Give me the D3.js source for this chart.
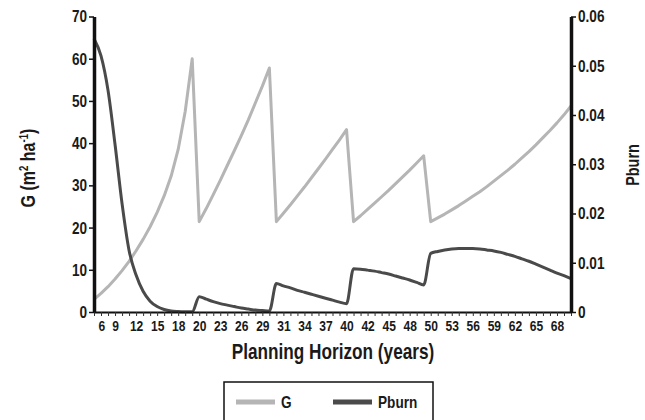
<!DOCTYPE html>
<html><head><meta charset="utf-8">
<script src="https://cdn.jsdelivr.net/npm/d3@7"></script>
<style>
html,body{margin:0;padding:0;background:#fff;}
svg text{font-family:"Liberation Sans Narrow","Arial Narrow","Liberation Sans",Arial,sans-serif;font-weight:bold;fill:#1a1a1a;}
</style></head>
<body><svg id="c" width="645" height="420"></svg>
<script>
// Planning horizon categories (years; harvest years appear twice: before / after)
const years = [6,7,8,9,10,11,12,13,14,15,16,17,18,19,20,20,
  21,22,23,24,25,26,27,28,29,30,30,
  31,32,33,34,35,36,37,38,39,40,40,
  41,42,43,44,45,46,47,48,49,50,50,
  51,52,53,54,55,56,57,58,59,60,61,62,63,64,65,66,67,68,69,70];
// G (m2 ha-1), left axis
const gValues = [3,4.4,6,7.8,9.8,12,14.5,17.2,20.2,23.6,27.5,32.2,38.5,47.5,60,
  21.4,24.5,27.8,31.2,34.7,38.2,41.8,45.5,49.5,53.5,57.8,
  21.4,23.4,25.4,27.5,29.6,31.8,34,36.2,38.5,40.8,43.2,
  21.4,22.8,24.3,25.8,27.3,28.8,30.4,32,33.6,35.3,37,
  21.4,22.3,23.2,24.2,25.2,26.3,27.4,28.5,29.7,31,32.3,33.6,35,36.5,38,39.6,41.3,43,44.8,46.7,48.8];
// Pburn, right axis
const pburnValues = [0.0555,0.052,0.045,0.034,0.022,0.0125,0.0075,0.0042,0.0022,0.0011,0.0005,0.0002,0.0001,0.00005,0.00003,
  0.0031,0.0026,0.0021,0.0017,0.0014,0.0011,0.0008,0.0006,0.0004,0.0003,0.0002,
  0.0058,0.0053,0.0049,0.0044,0.0040,0.0036,0.0032,0.0028,0.0024,0.0020,0.0017,
  0.0088,0.0087,0.0085,0.0083,0.0080,0.0077,0.0073,0.0069,0.0065,0.0060,0.0055,
  0.0119,0.0123,0.0126,0.0128,0.0129,0.0129,0.0129,0.0128,0.0126,0.0124,0.0121,0.0117,0.0113,0.0108,0.0103,0.0097,0.0091,0.0085,0.0079,0.0074,0.0068];
const gTicks = [0,10,20,30,40,50,60,70];
const pTicks = [0,0.01,0.02,0.03,0.04,0.05,0.06];
const seriesNames = ["G","Pburn"];
const colors = {G:"#b5b5b5", Pburn:"#4a4a4a"};

const svg = d3.select("#c");
const L = 94, R = 571, T = 16.5, B = 312;
const idx = d3.range(years.length);
const x = d3.scalePoint().domain(idx).range([L, R]);
const yL = d3.scaleLinear().domain([0,70]).range([B, T]);
const yR = d3.scaleLinear().domain([0,0.06]).range([B, T]);

// lines
const lineG = d3.line().x((d,i)=>x(i)).y(d=>yL(d));
const lineP = d3.line().x((d,i)=>x(i)).y(d=>yR(d)).curve(d3.curveMonotoneX);
svg.append("path").attr("d", lineG(gValues)).attr("fill","none")
  .attr("stroke",colors.G).attr("stroke-width",3).attr("stroke-linejoin","round");
svg.append("path").attr("d", lineP(pburnValues)).attr("fill","none")
  .attr("stroke",colors.Pburn).attr("stroke-width",3).attr("stroke-linejoin","round");

// x axis
const xAxis = d3.axisBottom(x).tickValues(idx).tickSize(4).tickSizeOuter(0)
  .tickFormat(i => i % 3 === 0 ? String(years[i]) : "");
const gx = svg.append("g").attr("transform",`translate(0,${B})`).call(xAxis);
gx.select(".domain").attr("stroke","#111").attr("stroke-width",2);
gx.selectAll(".tick line").attr("stroke","#333").attr("stroke-width",1);
gx.selectAll(".tick text").attr("font-size",15).attr("dy","0.9em").attr("y",5);
gx.selectAll(".tick text").filter(i=>i===0).attr("text-anchor","start").attr("dx",4);

// left axis
const gy = svg.append("g").attr("transform",`translate(${L},0)`)
  .call(d3.axisLeft(yL).tickValues(gTicks).tickSize(5).tickSizeOuter(0).tickFormat(d3.format("d")));
gy.select(".domain").attr("stroke","#111").attr("stroke-width",3.5);
gy.selectAll(".tick line").attr("stroke","#111").attr("stroke-width",1.5);
gy.selectAll(".tick text").attr("font-size",17).attr("x",-7);

// right axis
const gr = svg.append("g").attr("transform",`translate(${R},0)`)
  .call(d3.axisRight(yR).tickValues(pTicks).tickSize(5).tickSizeOuter(0)
    .tickFormat(d => d === 0 ? "0" : d3.format(".2f")(d)));
gr.select(".domain").attr("stroke","#111").attr("stroke-width",3.5);
gr.selectAll(".tick line").attr("stroke","#111").attr("stroke-width",1.5);
gr.selectAll(".tick text").attr("font-size",17).attr("x",7);

// titles
const yt = svg.append("text").attr("transform","translate(35,168) rotate(-90)")
  .attr("text-anchor","middle").attr("font-size",20);
yt.append("tspan").text("G (m");
yt.append("tspan").attr("dy",-7).attr("font-size",12).text("2");
yt.append("tspan").attr("dy",7).text(" ha");
yt.append("tspan").attr("dy",-7).attr("font-size",12).text("-1");
yt.append("tspan").attr("dy",7).text(")");

svg.append("text").attr("transform","translate(639,165) rotate(-90)")
  .attr("text-anchor","middle").attr("font-size",18).text("Pburn");

svg.append("text").attr("x",333).attr("y",359).attr("text-anchor","middle")
  .attr("font-size",21.5).text("Planning Horizon (years)");

// legend
const lg = svg.append("g");
lg.append("rect").attr("x",224).attr("y",382).attr("width",209).attr("height",60)
  .attr("fill","#fff").attr("stroke","#111").attr("stroke-width",1.5);
const items = [{name:seriesNames[0], x0:236}, {name:seriesNames[1], x0:333}];
items.forEach(it => {
  lg.append("line").attr("x1",it.x0).attr("x2",it.x0+39).attr("y1",402).attr("y2",402)
    .attr("stroke",colors[it.name]).attr("stroke-width",5);
  lg.append("text").attr("x",it.x0+45).attr("y",408).attr("font-size",17).text(it.name);
});

// condense all text (narrow face look)
svg.selectAll("text").each(function(){
  const t = d3.select(this);
  if (!t.text()) return;
  const w = this.getComputedTextLength();
  t.attr("textLength", (w*0.8).toFixed(1)).attr("lengthAdjust","spacingAndGlyphs");
});
</script></body></html>
